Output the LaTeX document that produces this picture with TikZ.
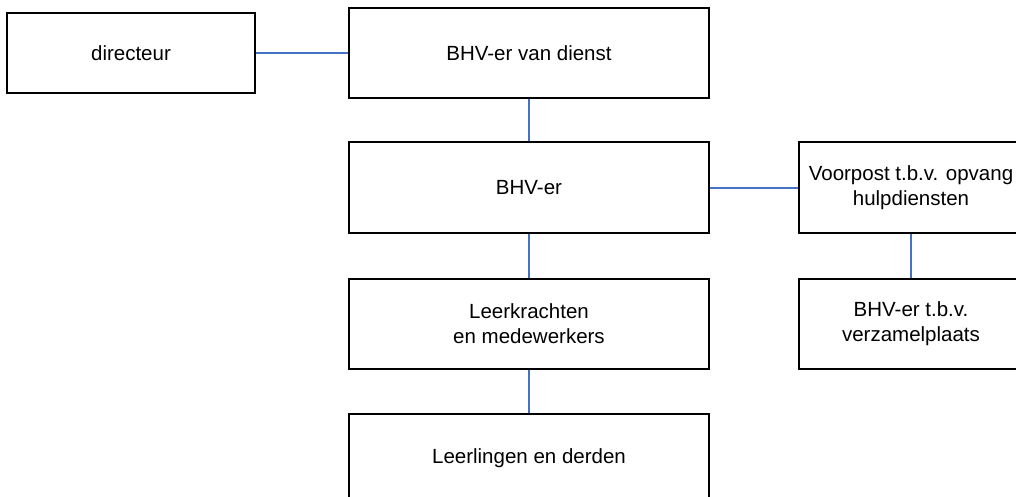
\documentclass[tikz,border=0pt]{standalone}
\usepackage{fontspec}
\setmainfont{Liberation Sans}
\usetikzlibrary{positioning}

\definecolor{linkblue}{HTML}{4472C4}

\begin{document}
\begin{tikzpicture}[
      x=1pt, y=1pt,
      font=\fontsize{20.5}{24.5}\selectfont,
      role/.style  ={rectangle, draw, line width=2pt, minimum width=360pt,
                     minimum height=90pt, align=center, inner sep=2pt},
      side/.style  ={role, minimum width=224pt},
      head/.style  ={role, minimum width=248pt, minimum height=80pt},
      link/.style  ={draw=linkblue, line width=2pt}
    ]
    \useasboundingbox (0,0) rectangle (1016,-497);
    \clip (0,0) rectangle (1016,-497);

    \node[role] (dienst) at (529,-53.5) {BHV-er van dienst};
    \node[head, left=92pt of dienst] (directeur) {directeur};
    \node[role, below=42pt of dienst] (bhv) {BHV-er};
    \node[role, below=44pt of bhv] (staff) {Leerkrachten\\ en medewerkers};
    \node[role, below=43pt of staff] (pupils) {Leerlingen en derden};
    \node[side, right=88pt of bhv] (voorpost) {Voorpost t.b.v. opvang\\hulpdiensten};
    \node[side, below=44pt of voorpost] (verzamel) {BHV-er t.b.v.\\verzamelplaats};

    \draw[link] (directeur) -- (dienst);
    \draw[link] (dienst) -- (bhv);
    \draw[link] (bhv) -- (staff);
    \draw[link] (staff) -- (pupils);
    \draw[link] (bhv) -- (voorpost);
    \draw[link] (voorpost) -- (verzamel);
\end{tikzpicture}
\end{document}
